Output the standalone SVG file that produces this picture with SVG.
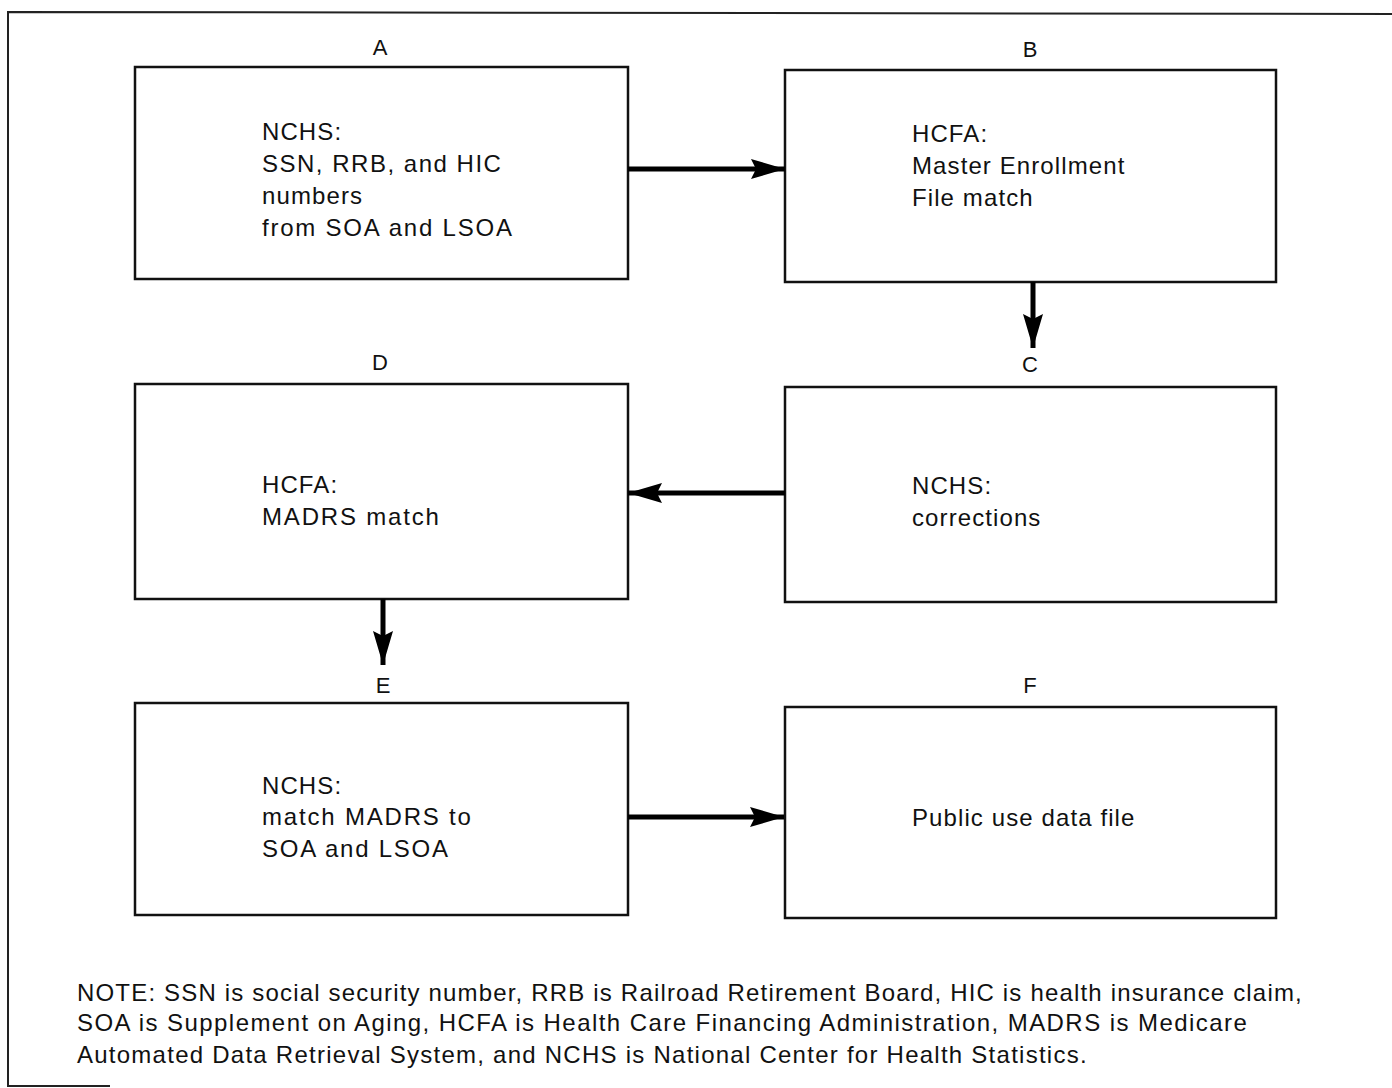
<svg xmlns="http://www.w3.org/2000/svg" width="1392" height="1088" viewBox="0 0 1392 1088">
<style>
  .box { fill: none; stroke: #111; stroke-width: 2.5; }
  .frame { fill: none; stroke: #222; stroke-width: 2; }
  .t { font-family: "Liberation Sans", Arial, sans-serif; font-size: 24px; letter-spacing: 1.1px; fill: #111; }
  .lbl { font-family: "Liberation Sans", Arial, sans-serif; font-size: 22px; fill: #111; text-anchor: middle; }
  .note { font-family: "Liberation Sans", Arial, sans-serif; font-size: 24px; letter-spacing: 1.25px; fill: #111; }
  .conn { stroke: #000; stroke-width: 5; fill: none; marker-end: url(#arr); }
</style>
<defs>
  <marker id="arr" markerUnits="userSpaceOnUse" markerWidth="36" markerHeight="22" refX="34" refY="11" orient="auto">
    <path d="M0,1 L34,11 L0,21 L5,11 Z" fill="#000"/>
  </marker>
</defs>
<rect width="1392" height="1088" fill="#fff"/>
<path class="frame" d="M1392,14 L8,12 L8,1086 L110,1086"/>

<g id="nodeA">
  <text class="lbl" x="380" y="55">A</text>
  <rect class="box" x="135" y="67" width="493" height="212"/>
  <text class="t" x="262" y="140">NCHS:</text>
  <text class="t" x="262" y="172" textLength="240">SSN, RRB, and HIC</text>
  <text class="t" x="262" y="204">numbers</text>
  <text class="t" x="262" y="236" textLength="251">from SOA and LSOA</text>
</g>
<g id="nodeB">
  <text class="lbl" x="1030" y="57">B</text>
  <rect class="box" x="785" y="70" width="491" height="212"/>
  <text class="t" x="912" y="142">HCFA:</text>
  <text class="t" x="912" y="174">Master Enrollment</text>
  <text class="t" x="912" y="206">File match</text>
</g>
<g id="nodeC">
  <text class="lbl" x="1030" y="372">C</text>
  <rect class="box" x="785" y="387" width="491" height="215"/>
  <text class="t" x="912" y="494">NCHS:</text>
  <text class="t" x="912" y="526">corrections</text>
</g>
<g id="nodeD">
  <text class="lbl" x="380" y="370">D</text>
  <rect class="box" x="135" y="384" width="493" height="215"/>
  <text class="t" x="262" y="493">HCFA:</text>
  <text class="t" x="262" y="525" textLength="178">MADRS match</text>
</g>
<g id="nodeE">
  <text class="lbl" x="383" y="693">E</text>
  <rect class="box" x="135" y="703" width="493" height="212"/>
  <text class="t" x="262" y="794">NCHS:</text>
  <text class="t" x="262" y="825" textLength="210">match MADRS to</text>
  <text class="t" x="262" y="857" textLength="187">SOA and LSOA</text>
</g>
<g id="nodeF">
  <text class="lbl" x="1030" y="693">F</text>
  <rect class="box" x="785" y="707" width="491" height="211"/>
  <text class="t" x="912" y="826">Public use data file</text>
</g>

<g id="connectors">
  <line class="conn" x1="628" y1="169" x2="785" y2="169"/>
  <line class="conn" x1="1033" y1="282" x2="1033" y2="348"/>
  <line class="conn" x1="785" y1="493" x2="628" y2="493"/>
  <line class="conn" x1="383" y1="599" x2="383" y2="665"/>
  <line class="conn" x1="628" y1="817" x2="784" y2="817"/>
</g>

<g id="note">
  <text class="note" x="77" y="1001" textLength="1226">NOTE: SSN is social security number, RRB is Railroad Retirement Board, HIC is health insurance claim,</text>
  <text class="note" x="77" y="1031" textLength="1171">SOA is Supplement on Aging, HCFA is Health Care Financing Administration, MADRS is Medicare</text>
  <text class="note" x="77" y="1063">Automated Data Retrieval System, and NCHS is National Center for Health Statistics.</text>
</g>
</svg>
